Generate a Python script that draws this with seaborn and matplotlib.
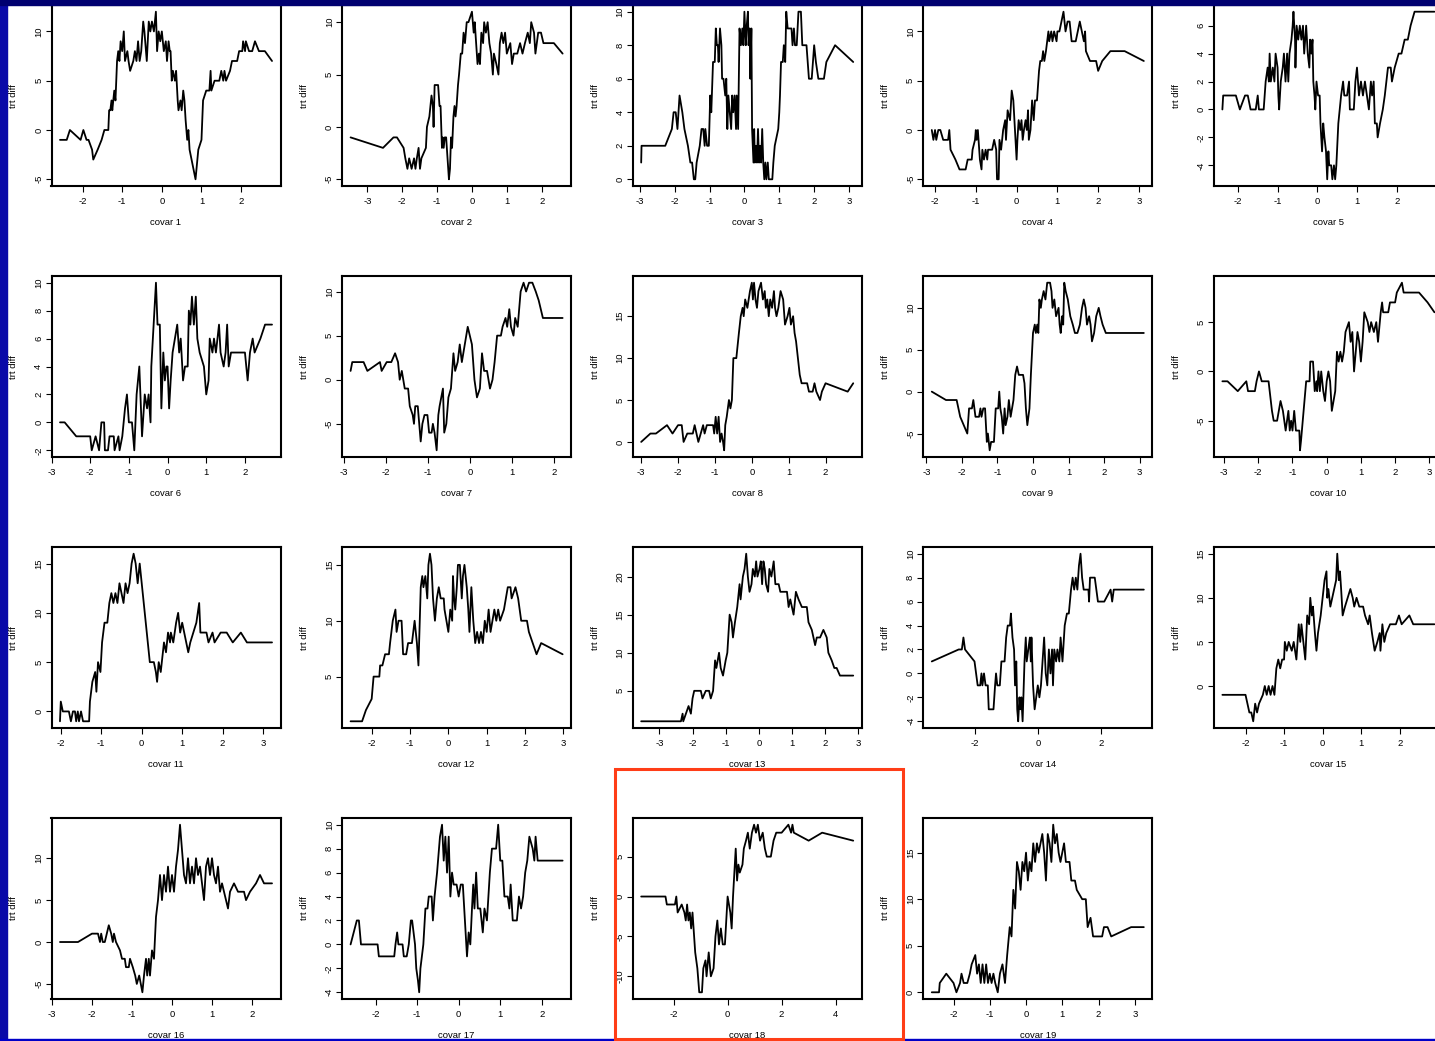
import matplotlib
matplotlib.use("Agg")
import matplotlib.pyplot as plt
from matplotlib.patches import Rectangle
import pandas as pd
import seaborn as sns

# (covariate value, treatment difference) pairs for each covariate
covar1 = [(-2.57,-1),(-2.40,-1),(-2.32,0),(-2.05,-1),(-1.98,0),(-1.90,-1),(-1.85,-1),(-1.76,-2),(-1.73,-3),(-1.62,-2),
          (-1.52,-1),(-1.45,0),(-1.35,0),(-1.33,2),(-1.30,2),(-1.27,3),(-1.25,2),(-1.20,4),(-1.17,3),(-1.13,7),
          (-1.10,8),(-1.07,7),(-1.04,9),(-1.00,8),(-0.96,10),(-0.93,7),(-0.87,8),(-0.84,7),(-0.80,6),(-0.72,7),
          (-0.68,8),(-0.64,7),(-0.60,9),(-0.56,7),(-0.52,8),(-0.47,11),(-0.44,10),(-0.38,7),(-0.33,11),(-0.29,10),
          (-0.25,11),(-0.20,10),(-0.15,12),(-0.12,8),(-0.08,10),(-0.04,9),(0.00,10),(0.05,8),(0.10,9),(0.13,7),
          (0.17,9),(0.20,8),(0.22,8),(0.25,5),(0.28,6),(0.33,5),(0.36,6),(0.40,3),(0.42,2),(0.47,3),
          (0.50,2),(0.54,4),(0.57,3),(0.60,1),(0.64,-1),(0.67,0),(0.70,-2),(0.75,-3),(0.80,-4),(0.85,-5),
          (0.92,-2),(1.00,-1),(1.04,3),(1.12,4),(1.20,4),(1.23,6),(1.25,4),(1.33,5),(1.45,5),(1.50,6),
          (1.55,5),(1.58,6),(1.62,5),(1.72,6),(1.77,7),(1.90,7),(1.95,8),(2.03,8),(2.05,9),(2.10,8),
          (2.12,9),(2.20,8),(2.28,8),(2.35,9),(2.45,8),(2.60,8),(2.78,7)]

covar2 = [(-3.48,-1),(-2.55,-2),(-2.25,-1),(-2.15,-1),(-1.96,-2),(-1.91,-3),(-1.85,-4),(-1.80,-3),(-1.73,-4),(-1.66,-3),
          (-1.62,-4),(-1.58,-3),(-1.53,-2),(-1.49,-4),(-1.45,-3),(-1.32,-2),(-1.29,0),(-1.22,1),(-1.16,3),(-1.12,2),
          (-1.10,0),(-1.07,4),(-0.97,4),(-0.93,2),(-0.90,2),(-0.86,-2),(-0.84,-1),(-0.81,-2),(-0.78,-1),(-0.74,-1),
          (-0.70,-3),(-0.66,-5),(-0.63,-4),(-0.60,-1),(-0.57,-2),(-0.53,1),(-0.50,2),(-0.47,1),(-0.44,2),(-0.40,4),
          (-0.37,5),(-0.32,7),(-0.28,7),(-0.24,9),(-0.20,8),(-0.15,10),(-0.10,10),(0.00,11),(0.05,9),(0.08,10),
          (0.12,8),(0.16,6),(0.20,7),(0.23,6),(0.27,9),(0.32,8),(0.35,10),(0.40,9),(0.45,10),(0.50,8),
          (0.55,7),(0.60,5),(0.63,7),(0.70,6),(0.76,5),(0.80,8),(0.85,9),(0.90,8),(0.95,9),(1.00,7),
          (1.10,8),(1.15,6),(1.20,7),(1.30,7),(1.38,8),(1.45,7),(1.52,8),(1.60,9),(1.66,8),(1.70,10),
          (1.78,9),(1.82,7),(1.90,9),(1.98,9),(2.05,8),(2.35,8),(2.60,7)]

covar3 = [(-2.96,1),(-2.95,2),(-2.27,2),(-2.08,3),(-2.03,4),(-1.97,4),(-1.92,3),(-1.86,5),(-1.78,4),(-1.72,3),
          (-1.62,2),(-1.55,1),(-1.50,1),(-1.45,0),(-1.41,0),(-1.37,1),(-1.28,2),(-1.23,3),(-1.18,3),(-1.14,2),
          (-1.12,3),(-1.07,2),(-1.02,2),(-0.98,5),(-0.95,4),(-0.90,7),(-0.85,7),(-0.82,9),(-0.79,8),(-0.76,8),
          (-0.74,7),(-0.70,9),(-0.66,8),(-0.64,6),(-0.60,6),(-0.55,5),(-0.52,6),(-0.49,3),(-0.46,5),(-0.42,4),
          (-0.38,3),(-0.35,5),(-0.32,4),(-0.28,5),(-0.24,3),(-0.22,5),(-0.18,3),(-0.14,9),(-0.10,8),(-0.06,9),
          (-0.03,8),(0.00,10),(0.04,8),(0.06,9),(0.10,10),(0.12,8),(0.15,9),(0.17,6),(0.20,9),(0.22,3),
          (0.26,1),(0.28,3),(0.30,1),(0.33,2),(0.36,1),(0.39,3),(0.42,1),(0.45,2),(0.48,1),(0.51,3),
          (0.54,1),(0.57,0),(0.60,1),(0.63,0),(0.67,1),(0.70,0),(0.80,0),(0.83,1),(0.87,2),(0.97,3),
          (1.00,4),(1.02,5),(1.05,7),(1.10,7),(1.13,8),(1.17,7),(1.20,10),(1.24,9),(1.35,9),(1.38,8),
          (1.42,9),(1.45,8),(1.50,8),(1.55,10),(1.62,10),(1.66,8),(1.78,8),(1.85,6),(1.93,6),(2.00,8),
          (2.05,7),(2.12,6),(2.28,6),(2.35,7),(2.60,8),(3.12,7)]

covar4 = [(-2.08,0),(-2.04,-1),(-2.00,0),(-1.97,-1),(-1.92,0),(-1.87,0),(-1.80,-1),(-1.68,-1),(-1.65,0),(-1.62,-2),
          (-1.50,-3),(-1.40,-4),(-1.25,-4),(-1.20,-3),(-1.10,-3),(-1.08,-2),(-1.02,-1),(-1.00,0),(-0.98,-1),(-0.95,0),
          (-0.90,-3),(-0.86,-4),(-0.84,-2),(-0.80,-3),(-0.76,-2),(-0.72,-3),(-0.70,-2),(-0.60,-2),(-0.55,-1),(-0.50,-2),
          (-0.48,-5),(-0.44,-5),(-0.42,-1),(-0.38,-2),(-0.33,0),(-0.28,1),(-0.26,-1),(-0.22,2),(-0.16,1),(-0.12,4),
          (-0.08,3),(-0.04,0),(0.00,-3),(0.02,-1),(0.05,1),(0.09,0),(0.12,1),(0.15,-1),(0.18,0),(0.22,1),
          (0.25,0),(0.28,2),(0.30,-1),(0.34,0),(0.38,3),(0.42,1),(0.45,3),(0.50,3),(0.55,6),(0.58,7),
          (0.62,7),(0.65,8),(0.68,7),(0.72,8),(0.78,10),(0.80,9),(0.85,10),(0.88,9),(0.92,10),(0.98,9),
          (1.00,10),(1.05,10),(1.10,11),(1.15,12),(1.20,10),(1.25,11),(1.30,11),(1.35,9),(1.45,9),(1.50,10),
          (1.55,11),(1.60,10),(1.65,9),(1.68,10),(1.70,8),(1.80,7),(1.95,7),(2.00,6),(2.10,7),(2.30,8),
          (2.65,8),(3.12,7)]

covar5 = [(-2.39,0),(-2.37,1),(-2.05,1),(-1.95,0),(-1.82,1),(-1.75,1),(-1.68,0),(-1.55,0),(-1.50,1),(-1.47,0),
          (-1.35,0),(-1.30,2),(-1.25,3),(-1.22,2),(-1.20,4),(-1.17,2),(-1.12,3),(-1.08,2),(-1.05,4),(-1.00,3),
          (-0.98,1),(-0.96,0),(-0.92,2),(-0.87,3),(-0.84,4),(-0.80,2),(-0.76,4),(-0.73,2),(-0.70,4),(-0.65,5),
          (-0.62,6),(-0.60,7),(-0.56,5),(-0.55,3),(-0.52,6),(-0.48,5),(-0.44,6),(-0.40,5),(-0.36,6),(-0.33,4),
          (-0.28,6),(-0.24,4),(-0.20,3),(-0.18,5),(-0.15,4),(-0.12,5),(-0.10,2),(-0.07,1),(-0.05,0),(-0.02,2),
          (0.02,1),(0.06,1),(0.08,-1),(0.12,-3),(0.15,-1),(0.18,-2),(0.22,-3),(0.25,-5),(0.28,-3),(0.30,-4),
          (0.35,-4),(0.38,-5),(0.42,-4),(0.45,-5),(0.48,-4),(0.53,-1),(0.60,1),(0.65,2),(0.68,1),(0.75,1),
          (0.80,2),(0.82,0),(0.92,0),(0.96,2),(1.00,3),(1.05,1),(1.10,2),(1.15,1),(1.20,2),(1.25,1),
          (1.30,0),(1.35,2),(1.38,1),(1.42,2),(1.45,-1),(1.50,-1),(1.52,-2),(1.58,-1),(1.65,0),(1.70,1),
          (1.78,3),(1.85,3),(1.88,2),(1.95,3),(2.05,4),(2.12,4),(2.20,5),(2.28,5),(2.35,6),(2.45,7),
          (2.95,7)]

covar6 = [(-2.78,0),(-2.66,0),(-2.36,-1),(-2.00,-1),(-1.96,-2),(-1.86,-1),(-1.77,-2),(-1.71,0),(-1.64,0),(-1.62,-2),
          (-1.54,-2),(-1.50,-1),(-1.39,-1),(-1.37,-2),(-1.27,-1),(-1.24,-2),(-1.17,-1),(-1.10,1),(-1.05,2),(-1.00,0),
          (-0.92,0),(-0.86,-2),(-0.80,2),(-0.73,4),(-0.66,-1),(-0.59,2),(-0.53,1),(-0.49,2),(-0.44,0),(-0.42,4),
          (-0.34,8),(-0.30,10),(-0.26,7),(-0.20,7),(-0.16,1),(-0.11,5),(-0.07,3),(-0.03,4),(0.00,4),(0.04,1),
          (0.08,3),(0.13,5),(0.19,6),(0.25,7),(0.30,5),(0.34,6),(0.40,3),(0.45,4),(0.52,4),(0.55,8),
          (0.59,7),(0.63,9),(0.68,7),(0.73,9),(0.77,6),(0.83,5),(0.94,4),(1.00,2),(1.06,3),(1.09,6),
          (1.16,5),(1.20,6),(1.25,5),(1.33,7),(1.37,5),(1.45,4),(1.50,5),(1.54,7),(1.58,4),(1.64,5),
          (2.00,5),(2.07,3),(2.13,5),(2.20,6),(2.25,5),(2.40,6),(2.52,7),(2.70,7)]

covar7 = [(-2.84,1),(-2.80,2),(-2.53,2),(-2.44,1),(-2.14,2),(-2.10,1),(-1.98,2),(-1.87,2),(-1.78,3),(-1.71,2),
          (-1.67,0),(-1.62,1),(-1.55,-1),(-1.47,-1),(-1.43,-3),(-1.36,-4),(-1.33,-5),(-1.30,-3),(-1.24,-3),(-1.17,-7),
          (-1.13,-5),(-1.08,-4),(-1.01,-4),(-0.97,-6),(-0.91,-6),(-0.88,-5),(-0.84,-6),(-0.79,-8),(-0.75,-4),(-0.72,-3),
          (-0.68,-2),(-0.64,-1),(-0.61,-6),(-0.56,-5),(-0.51,-2),(-0.45,-1),(-0.39,3),(-0.35,1),(-0.29,2),(-0.24,4),
          (-0.19,2),(-0.12,4),(-0.05,6),(0.00,5),(0.05,4),(0.11,0),(0.17,-2),(0.24,-1),(0.29,3),(0.34,1),
          (0.41,1),(0.48,-1),(0.54,0),(0.59,2),(0.65,5),(0.74,5),(0.78,6),(0.85,7),(0.89,6),(0.94,8),
          (0.98,6),(1.04,5),(1.08,7),(1.14,6),(1.21,10),(1.28,11),(1.34,10),(1.41,11),(1.49,11),(1.57,10),
          (1.64,9),(1.74,7),(2.21,7)]

covar8 = [(-3.00,0),(-2.75,1),(-2.60,1),(-2.30,2),(-2.15,1),(-2.00,2),(-1.90,2),(-1.85,0),(-1.75,1),(-1.60,1),
          (-1.55,2),(-1.45,0),(-1.32,2),(-1.28,1),(-1.22,2),(-1.05,2),(-1.02,1),(-0.98,3),(-0.94,1),(-0.90,3),
          (-0.86,0),(-0.82,1),(-0.78,0),(-0.75,-1),(-0.72,2),(-0.68,3),(-0.62,5),(-0.58,4),(-0.54,5),(-0.50,10),
          (-0.42,10),(-0.35,13),(-0.30,15),(-0.25,16),(-0.22,15),(-0.18,17),(-0.12,16),(-0.05,18),(0.00,19),(0.03,17),
          (0.06,19),(0.10,17),(0.14,16),(0.18,18),(0.25,19),(0.30,17),(0.35,18),(0.38,16),(0.42,17),(0.46,15),
          (0.50,17),(0.55,16),(0.60,18),(0.63,16),(0.67,15),(0.72,16),(0.78,18),(0.85,17),(0.90,14),(0.97,15),
          (1.02,16),(1.06,14),(1.12,15),(1.16,13),(1.20,12),(1.25,10),(1.30,8),(1.35,7),(1.50,7),(1.55,6),
          (1.65,6),(1.70,7),(1.75,6),(1.85,5),(1.90,6),(2.00,7),(2.60,6),(2.75,7)]

covar9 = [(-2.85,0),(-2.45,-1),(-2.15,-1),(-2.05,-3),(-1.95,-4),(-1.85,-5),(-1.80,-2),(-1.72,-2),(-1.68,-1),(-1.62,-3),
          (-1.52,-3),(-1.48,-2),(-1.45,-3),(-1.40,-2),(-1.35,-2),(-1.30,-6),(-1.27,-5),(-1.22,-7),(-1.18,-6),(-1.10,-6),
          (-1.05,-2),(-0.98,-2),(-0.95,0),(-0.92,-2),(-0.88,-3),(-0.84,-5),(-0.80,-2),(-0.77,-4),(-0.72,-3),(-0.68,-1),
          (-0.63,-3),(-0.55,-1),(-0.50,2),(-0.45,3),(-0.40,2),(-0.28,2),(-0.24,1),(-0.20,-2),(-0.16,-4),(-0.10,-2),
          (-0.06,2),(0.00,7),(0.05,8),(0.08,7),(0.12,8),(0.15,7),(0.18,11),(0.22,10),(0.25,11),(0.30,12),
          (0.35,11),(0.40,13),(0.48,13),(0.52,12),(0.55,10),(0.60,11),(0.65,9),(0.72,10),(0.75,8),(0.78,7),
          (0.82,9),(0.85,8),(0.88,13),(0.92,12),(0.98,11),(1.05,9),(1.12,8),(1.18,7),(1.25,7),(1.32,8),
          (1.38,10),(1.43,11),(1.48,10),(1.52,8),(1.58,9),(1.62,8),(1.66,6),(1.72,7),(1.78,9),(1.85,10),
          (1.90,9),(1.96,8),(2.05,7),(3.12,7)]

covar10 = [(-3.05,-1),(-2.90,-1),(-2.60,-2),(-2.35,-1),(-2.30,-2),(-2.10,-2),(-2.05,-1),(-1.98,0),(-1.90,-1),(-1.70,-1),
           (-1.60,-4),(-1.55,-5),(-1.45,-5),(-1.40,-4),(-1.35,-3),(-1.28,-4),(-1.20,-6),(-1.12,-4),(-1.08,-6),(-1.04,-5),
           (-1.00,-6),(-0.95,-4),(-0.90,-6),(-0.80,-6),(-0.78,-8),(-0.75,-7),(-0.70,-5),(-0.65,-3),(-0.60,-1),(-0.50,-1),
           (-0.48,1),(-0.40,1),(-0.35,-2),(-0.30,-1),(-0.28,-2),(-0.24,0),(-0.20,-2),(-0.16,0),(-0.10,-2),(-0.05,-3),
           (0.00,-1),(0.05,0),(0.10,-1),(0.15,-4),(0.20,-3),(0.25,-2),(0.30,2),(0.35,1),(0.40,2),(0.45,1),
           (0.50,2),(0.55,4),(0.65,5),(0.70,3),(0.75,4),(0.80,0),(0.85,2),(0.90,4),(0.95,3),(1.00,1),
           (1.05,3),(1.10,6),(1.20,5),(1.25,4),(1.30,5),(1.38,4),(1.45,5),(1.50,3),(1.58,6),(1.62,7),
           (1.65,6),(1.80,6),(1.85,7),(2.00,7),(2.05,8),(2.20,9),(2.25,8),(2.70,8),(2.95,7),(3.15,6)]

covar11 = [(-2.02,-1),(-2.00,1),(-1.95,0),(-1.80,0),(-1.75,-1),(-1.70,0),(-1.65,0),(-1.62,-1),(-1.58,0),(-1.55,-1),
           (-1.50,0),(-1.45,-1),(-1.30,-1),(-1.28,1),(-1.22,3),(-1.15,4),(-1.12,2),(-1.08,5),(-1.02,4),(-0.98,7),
           (-0.92,9),(-0.85,9),(-0.80,11),(-0.75,12),(-0.70,11),(-0.65,12),(-0.60,11),(-0.55,13),(-0.50,12),(-0.45,11),
           (-0.40,13),(-0.35,12),(-0.30,13),(-0.25,15),(-0.20,16),(-0.15,15),(-0.10,13),(-0.05,15),(0.00,13),(0.05,11),
           (0.10,9),(0.15,7),(0.20,5),(0.30,5),(0.35,4),(0.38,3),(0.42,5),(0.47,4),(0.55,7),(0.60,6),
           (0.65,8),(0.70,7),(0.72,8),(0.78,7),(0.85,9),(0.90,10),(0.95,8),(1.00,9),(1.05,8),(1.10,7),
           (1.15,6),(1.20,7),(1.35,9),(1.42,11),(1.45,8),(1.60,8),(1.65,7),(1.75,8),(1.80,7),(1.95,8),
           (2.10,8),(2.25,7),(2.45,8),(2.60,7),(3.22,7)]

covar12 = [(-2.55,1),(-2.25,1),(-2.15,2),(-2.00,3),(-1.95,5),(-1.80,5),(-1.78,6),(-1.72,6),(-1.65,7),(-1.55,7),
           (-1.52,8),(-1.45,10),(-1.38,11),(-1.35,9),(-1.30,10),(-1.22,10),(-1.18,7),(-1.10,7),(-1.05,8),(-0.95,8),
           (-0.88,10),(-0.82,8),(-0.78,6),(-0.72,13),(-0.68,14),(-0.65,13),(-0.60,14),(-0.55,12),(-0.52,15),(-0.48,16),
           (-0.44,15),(-0.40,12),(-0.35,10),(-0.30,12),(-0.25,13),(-0.20,12),(-0.12,12),(-0.10,11),(-0.05,10),(0.00,9),
           (0.05,11),(0.10,10),(0.12,14),(0.15,12),(0.18,11),(0.22,13),(0.25,15),(0.30,15),(0.35,12),(0.38,14),
           (0.42,15),(0.48,13),(0.52,11),(0.55,9),(0.60,13),(0.65,10),(0.70,8),(0.75,9),(0.80,8),(0.85,9),
           (0.90,8),(0.95,10),(1.00,9),(1.05,11),(1.10,9),(1.15,10),(1.20,11),(1.25,10),(1.30,11),(1.35,10),
           (1.45,11),(1.55,13),(1.62,13),(1.65,12),(1.75,13),(1.82,12),(1.90,10),(2.05,10),(2.10,9),(2.20,8),
           (2.30,7),(2.42,8),(2.98,7)]

covar13 = [(-3.55,1),(-2.35,1),(-2.30,2),(-2.28,1),(-2.20,2),(-2.12,3),(-2.05,2),(-2.00,4),(-1.95,5),(-1.75,5),
           (-1.70,4),(-1.60,5),(-1.50,5),(-1.45,4),(-1.38,5),(-1.32,9),(-1.28,8),(-1.20,10),(-1.15,8),(-1.08,7),
           (-1.00,9),(-0.95,10),(-0.88,15),(-0.82,14),(-0.78,12),(-0.72,14),(-0.65,16),(-0.58,19),(-0.55,17),(-0.48,20),
           (-0.43,21),(-0.38,23),(-0.33,20),(-0.28,18),(-0.22,19),(-0.18,21),(-0.12,20),(-0.08,22),(-0.04,20),(0.02,21),
           (0.06,22),(0.10,19),(0.14,22),(0.18,21),(0.22,19),(0.28,18),(0.32,21),(0.38,20),(0.45,22),(0.50,19),
           (0.60,19),(0.65,18),(0.85,18),(0.90,16),(0.95,17),(1.00,16),(1.05,15),(1.12,18),(1.20,17),(1.30,16),
           (1.45,16),(1.50,14),(1.60,13),(1.65,12),(1.70,11),(1.75,12),(1.85,12),(1.95,13),(2.05,12),(2.10,10),
           (2.20,9),(2.28,8),(2.35,8),(2.45,7),(2.85,7)]

covar14 = [(-3.35,1),(-2.50,2),(-2.40,2),(-2.35,3),(-2.30,2),(-2.00,1),(-1.90,-1),(-1.82,-1),(-1.78,0),(-1.75,-1),
           (-1.70,0),(-1.65,-1),(-1.58,-1),(-1.55,-3),(-1.40,-3),(-1.35,-1),(-1.32,0),(-1.28,-1),(-1.20,-1),(-1.15,1),
           (-1.05,1),(-1.00,3),(-0.95,4),(-0.88,4),(-0.85,5),(-0.80,3),(-0.75,2),(-0.72,-1),(-0.68,1),(-0.65,-3),
           (-0.62,-4),(-0.58,-2),(-0.55,-3),(-0.52,-2),(-0.48,-4),(-0.42,1),(-0.38,3),(-0.35,1),(-0.30,2),(-0.25,3),
           (-0.22,1),(-0.20,3),(-0.15,-1),(-0.10,-3),(-0.05,-2),(0.00,-1),(0.05,-2),(0.10,-1),(0.15,1),(0.20,3),
           (0.25,0),(0.30,-1),(0.35,2),(0.40,0),(0.45,2),(0.48,-1),(0.52,2),(0.58,1),(0.62,2),(0.68,1),
           (0.72,3),(0.78,1),(0.85,4),(0.92,5),(0.98,5),(1.05,7),(1.10,8),(1.15,7),(1.20,8),(1.25,7),
           (1.30,9),(1.35,10),(1.40,8),(1.45,7),(1.60,7),(1.62,6),(1.65,8),(1.80,8),(1.85,7),(1.90,6),
           (2.10,6),(2.30,7),(2.35,6),(2.40,7),(3.35,7)]

covar15 = [(-2.60,-1),(-2.00,-1),(-1.95,-2),(-1.90,-3),(-1.85,-3),(-1.80,-4),(-1.75,-2),(-1.70,-3),(-1.65,-2),(-1.55,-1),
           (-1.50,0),(-1.45,-1),(-1.40,0),(-1.35,-1),(-1.30,0),(-1.25,-1),(-1.20,2),(-1.15,3),(-1.10,2),(-1.05,3),
           (-1.00,3),(-0.98,5),(-0.93,4),(-0.88,5),(-0.80,4),(-0.75,5),(-0.68,3),(-0.62,7),(-0.58,5),(-0.55,7),
           (-0.50,5),(-0.45,3),(-0.40,8),(-0.35,7),(-0.32,10),(-0.28,8),(-0.25,9),(-0.20,6),(-0.16,4),(-0.12,6),
           (-0.05,8),(0.00,10),(0.05,12),(0.10,13),(0.12,10),(0.15,11),(0.20,9),(0.25,10),(0.30,11),(0.35,12),
           (0.38,15),(0.42,12),(0.45,13),(0.48,11),(0.52,8),(0.58,9),(0.65,10),(0.72,11),(0.78,10),(0.82,9),
           (0.88,10),(0.95,9),(1.05,9),(1.10,8),(1.18,7),(1.22,8),(1.28,6),(1.35,4),(1.42,5),(1.48,6),
           (1.50,4),(1.55,7),(1.60,5),(1.65,6),(1.75,7),(1.90,7),(1.98,8),(2.05,7),(2.25,8),(2.35,7),
           (2.90,7)]

covar16 = [(-2.80,0),(-2.35,0),(-2.00,1),(-1.85,1),(-1.80,0),(-1.77,1),(-1.73,0),(-1.68,0),(-1.58,2),(-1.52,1),
           (-1.48,0),(-1.45,1),(-1.40,0),(-1.30,-1),(-1.25,-2),(-1.18,-2),(-1.15,-3),(-1.08,-3),(-1.05,-2),(-0.98,-3),
           (-0.92,-4),(-0.88,-5),(-0.82,-4),(-0.78,-5),(-0.74,-6),(-0.70,-4),(-0.65,-2),(-0.62,-4),(-0.58,-2),(-0.55,-4),
           (-0.50,-1),(-0.45,-2),(-0.40,3),(-0.35,5),(-0.30,8),(-0.25,5),(-0.20,8),(-0.15,6),(-0.10,9),(-0.05,6),
           (0.00,8),(0.05,6),(0.10,9),(0.15,11),(0.20,14),(0.25,11),(0.30,8),(0.35,7),(0.40,10),(0.45,7),
           (0.50,9),(0.55,7),(0.60,10),(0.65,8),(0.70,9),(0.75,7),(0.80,5),(0.85,9),(0.90,10),(0.95,8),
           (1.00,10),(1.05,8),(1.10,7),(1.15,9),(1.20,6),(1.25,7),(1.30,6),(1.40,4),(1.45,6),(1.55,7),
           (1.65,6),(1.80,6),(1.85,5),(1.95,6),(2.10,7),(2.20,8),(2.30,7),(2.50,7)]

covar17 = [(-2.60,0),(-2.45,2),(-2.40,2),(-2.35,0),(-1.95,0),(-1.92,-1),(-1.55,-1),(-1.52,0),(-1.48,1),(-1.45,0),
           (-1.35,0),(-1.32,-1),(-1.25,-1),(-1.20,0),(-1.15,2),(-1.12,2),(-1.05,0),(-1.02,-2),(-0.98,-3),(-0.95,-4),
           (-0.92,-2),(-0.85,0),(-0.80,3),(-0.75,3),(-0.72,4),(-0.65,4),(-0.62,2),(-0.58,4),(-0.52,6),(-0.45,9),
           (-0.40,10),(-0.36,7),(-0.32,9),(-0.28,6),(-0.24,9),(-0.20,4),(-0.16,6),(-0.12,5),(-0.05,5),(0.00,4),
           (0.05,5),(0.10,5),(0.15,2),(0.20,-1),(0.24,1),(0.28,0),(0.32,3),(0.35,5),(0.38,3),(0.42,6),
           (0.46,3),(0.52,3),(0.58,1),(0.62,3),(0.68,2),(0.75,6),(0.80,8),(0.90,8),(0.95,10),(1.00,7),
           (1.05,7),(1.10,4),(1.18,4),(1.22,3),(1.25,5),(1.30,2),(1.40,2),(1.45,4),(1.50,3),(1.55,4),
           (1.60,6),(1.65,7),(1.70,9),(1.78,8),(1.82,7),(1.85,9),(1.90,7),(2.50,7)]

covar18 = [(-3.20,0),(-2.30,0),(-2.25,-1),(-1.95,-1),(-1.90,0),(-1.85,-2),(-1.70,-1),(-1.60,-2),(-1.55,-3),(-1.50,-1),
           (-1.45,-3),(-1.40,-2),(-1.35,-4),(-1.30,-2),(-1.20,-7),(-1.12,-9),(-1.05,-12),(-0.95,-12),(-0.90,-9),(-0.82,-8),
           (-0.78,-10),(-0.70,-7),(-0.62,-10),(-0.52,-9),(-0.45,-5),(-0.38,-3),(-0.32,-6),(-0.25,-4),(-0.18,-6),(-0.10,-6),
           (0.00,0),(0.05,-1),(0.10,-2),(0.15,-4),(0.20,0),(0.25,3),(0.30,6),(0.35,2),(0.40,4),(0.45,3),
           (0.55,4),(0.60,6),(0.68,7),(0.75,8),(0.82,6),(0.90,8),(0.98,9),(1.05,8),(1.12,9),(1.20,7),
           (1.30,8),(1.38,6),(1.45,5),(1.60,5),(1.70,7),(1.80,8),(2.00,8),(2.25,9),(2.35,8),(2.40,9),
           (2.45,8),(3.00,7),(3.50,8),(4.65,7)]

covar19 = [(-2.60,0),(-2.40,0),(-2.38,1),(-2.20,2),(-2.00,1),(-1.92,0),(-1.82,1),(-1.78,2),(-1.72,1),(-1.62,1),
           (-1.55,2),(-1.50,3),(-1.40,4),(-1.35,2),(-1.30,3),(-1.25,1),(-1.20,3),(-1.15,1),(-1.10,3),(-1.05,1),
           (-1.00,2),(-0.95,1),(-0.90,2),(-0.85,1),(-0.78,0),(-0.72,2),(-0.65,3),(-0.58,1),(-0.52,4),(-0.45,7),
           (-0.40,6),(-0.35,11),(-0.30,9),(-0.25,14),(-0.20,13),(-0.15,11),(-0.10,14),(-0.05,13),(0.00,15),(0.05,12),
           (0.10,14),(0.15,13),(0.20,16),(0.25,14),(0.30,16),(0.35,15),(0.40,16),(0.45,17),(0.50,15),(0.55,12),
           (0.60,17),(0.65,16),(0.70,14),(0.75,18),(0.80,16),(0.85,17),(0.90,15),(0.95,14),(1.00,15),(1.05,16),
           (1.10,14),(1.20,14),(1.25,12),(1.35,12),(1.40,11),(1.55,10),(1.65,10),(1.70,7),(1.78,8),(1.85,6),
           (2.10,6),(2.15,7),(2.25,7),(2.35,6),(2.90,7),(3.25,7)]

series = [covar1, covar2, covar3, covar4, covar5, covar6, covar7, covar8, covar9, covar10,
          covar11, covar12, covar13, covar14, covar15, covar16, covar17, covar18, covar19]

x_ticks = [[-2,-1,0,1,2], [-3,-2,-1,0,1,2], [-3,-2,-1,0,1,2,3], [-2,-1,0,1,2,3], [-2,-1,0,1,2],
           [-3,-2,-1,0,1,2], [-3,-2,-1,0,1,2], [-3,-2,-1,0,1,2], [-3,-2,-1,0,1,2,3], [-3,-2,-1,0,1,2,3],
           [-2,-1,0,1,2,3], [-2,-1,0,1,2,3], [-3,-2,-1,0,1,2,3], [-2,0,2], [-2,-1,0,1,2],
           [-3,-2,-1,0,1,2], [-2,-1,0,1,2], [-2,0,2,4], [-2,-1,0,1,2,3]]
y_ticks = [[-5,0,5,10], [-5,0,5,10], [0,2,4,6,8,10], [-5,0,5,10], [-4,-2,0,2,4,6],
           [-2,0,2,4,6,8,10], [-5,0,5,10], [0,5,10,15], [-5,0,5,10], [-5,0,5],
           [0,5,10,15], [5,10,15], [5,10,15,20], [-4,-2,0,2,4,6,8,10], [0,5,10,15],
           [-5,0,5,10], [-4,-2,0,2,4,6,8,10], [-10,-5,0,5], [0,5,10,15]]
y_name = "trt diff"

sns.set_theme(style="ticks")
plt.rcParams["font.family"] = ["Liberation Sans", "DejaVu Sans"]

W, H = 1435, 1041
FS = 6.8
fig = plt.figure(figsize=(W / 100, H / 100), dpi=100, facecolor="white")

BOX_W, BOX_H = 229, 181
for i, pts in enumerate(series):
    r, c = divmod(i, 5)
    left = 51.5 + 290.6 * c
    top = 5 + 271 * r
    ax = fig.add_axes([left / W, 1 - (top + BOX_H) / H, BOX_W / W, BOX_H / H])
    ax.set_facecolor("white")
    x_name = f"covar {i + 1}"
    df = pd.DataFrame(pts, columns=[x_name, y_name])
    sns.lineplot(data=df, x=x_name, y=y_name, ax=ax, color="black", lw=1.3,
                 estimator=None, sort=False)
    xs, ys = df[x_name], df[y_name]
    xr, yr = xs.max() - xs.min(), ys.max() - ys.min()
    ax.set_xlim(xs.min() - 0.04 * xr, xs.max() + 0.04 * xr)
    ax.set_ylim(ys.min() - 0.04 * yr, ys.max() + 0.04 * yr)
    ax.set_xticks(x_ticks[i])
    ax.set_xticklabels([str(t) for t in x_ticks[i]])
    ax.set_yticks(y_ticks[i])
    ax.set_yticklabels([str(t) for t in y_ticks[i]], rotation=90, va="center")
    ax.tick_params(direction="out", length=4.3, width=0.8, labelsize=FS, colors="black")
    ax.tick_params(axis="x", pad=3.3)
    ax.tick_params(axis="y", pad=1.6)
    for sp in ax.spines.values():
        sp.set_visible(True)
        sp.set_linewidth(1.5)
        sp.set_color("black")
    ax.grid(False)
    ax.set_xlabel(x_name, fontsize=FS, color="black")
    ax.set_ylabel(y_name, fontsize=FS, color="black")
    ax.xaxis.set_label_coords(0.5, -32 / BOX_H)
    ax.yaxis.set_label_coords(-33 / BOX_W, 0.5)

# slide frame: blue bands and the highlight box around covar 18
fig.add_artist(Rectangle((0, 0), 7 / W, 1, transform=fig.transFigure,
                         color="#0A0AA8", zorder=20))
fig.add_artist(Rectangle((0, 1 - 5 / H), 1, 5 / H, transform=fig.transFigure,
                         color="#000070", zorder=20))
fig.add_artist(Rectangle((0, 0), 1, 2 / H, transform=fig.transFigure,
                         color="#0000C8", zorder=20))
fig.add_artist(Rectangle((614.5 / W, 1 - 1038.5 / H), (902.5 - 614.5) / W, (1038.5 - 768.5) / H,
                         transform=fig.transFigure, fill=False, ec="#FF3D17", lw=2.2, zorder=21))

fig.savefig("out.png", dpi=100, facecolor="white")
